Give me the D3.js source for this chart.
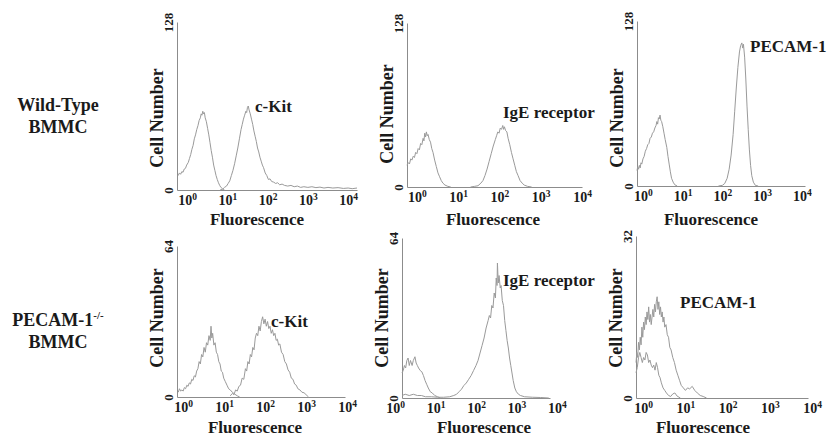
<!DOCTYPE html>
<html lang="en">
<head>
<meta charset="utf-8">
<script src="https://cdn.jsdelivr.net/npm/d3@7"></script>
<style type="text/css">
    body { margin: 0; background: #fff; }
    svg text {
        font-family: "Liberation Serif", "DejaVu Serif", serif;
        font-weight: bold;
        fill: #1a1a1a;
    }
    .axis path,
    .axis line {
        fill: none;
        stroke: #8c8c8c;
        stroke-width: 1;
    }
    .trace {
        fill: none;
        stroke: #9a9a9a;
        stroke-width: 1;
        stroke-linejoin: round;
    }
</style>
</head>
<body>
<script>
// labels
const rowNames = [["Wild-Type", "BMMC"], ["PECAM-1", "BMMC"]];
const rowSup = ["", "-/-"];
const markers = ["c-Kit", "IgE receptor", "PECAM-1", "c-Kit", "IgE receptor", "PECAM-1"];
const yMax = [128, 128, 128, 64, 64, 32];
const decades = [1, 10, 100, 1000, 10000];

// histograms: [log10 fluorescence, cell count]
const wtKitIso = [[-0.22,11],[-0.19,13],[-0.16,12],[-0.13,14],[-0.1,13.5],[-0.07,16],[-0.04,16.5],[-0.01,19],[0.03,21],[0.06,24],[0.09,27],[0.12,31],[0.15,34],[0.18,39],[0.21,42],[0.24,46],[0.27,49],[0.3,53],[0.33,55],[0.35,58],[0.37,57],[0.39,60],[0.41,58],[0.43,59],[0.45,55],[0.48,52],[0.51,47],[0.54,42],[0.57,36],[0.6,30],[0.63,25],[0.66,19],[0.69,15],[0.72,11],[0.75,8],[0.78,5.5],[0.81,3.5],[0.84,2],[0.88,1],[0.93,0]];
const wtKit = [[0.82,0],[0.88,0.5],[0.93,2],[0.98,3],[1.02,5],[1.06,7],[1.1,11],[1.14,15],[1.18,20],[1.22,26],[1.26,32],[1.3,39],[1.34,46],[1.37,50],[1.4,54],[1.43,57],[1.46,60],[1.48,59],[1.5,63],[1.52,64],[1.54,61],[1.57,58],[1.6,54],[1.63,50],[1.66,45],[1.69,41],[1.72,37],[1.75,32],[1.78,29],[1.81,25],[1.84,22],[1.87,19],[1.9,17],[1.94,13],[1.98,11],[2.02,8],[2.06,8.5],[2.1,6.5],[2.15,6],[2.2,5],[2.25,5.5],[2.3,4],[2.36,4.5],[2.42,3.5],[2.5,3],[2.58,3.5],[2.66,2.5],[2.74,3],[2.82,2],[2.9,2.5],[3.0,2],[3.1,2.5],[3.2,1.8],[3.3,2.2],[3.4,1.5],[3.5,2],[3.62,1.5],[3.75,1.8],[3.88,1.2],[4.0,1.5],[4.1,1],[4.22,1.5]];
const wtIgeIso = [[-0.24,17],[-0.21,19],[-0.18,18],[-0.15,22],[-0.12,21],[-0.09,24],[-0.06,23],[-0.03,27],[0,26],[0.03,30],[0.06,29],[0.09,34],[0.12,33],[0.15,38],[0.17,36],[0.19,42],[0.21,39],[0.23,43],[0.25,40],[0.27,41],[0.3,37],[0.33,35],[0.36,30],[0.39,27],[0.43,21],[0.47,16],[0.51,11],[0.55,8],[0.59,5],[0.63,3],[0.68,1.5],[0.75,0.5],[0.82,0]];
const wtIge = [[1.3,0],[1.4,0.5],[1.48,1],[1.55,3],[1.6,5],[1.65,9],[1.7,14],[1.75,20],[1.8,26],[1.85,32],[1.9,37],[1.93,40],[1.96,43],[1.99,42],[2.02,46],[2.05,45],[2.08,48],[2.1,45],[2.12,47],[2.15,44],[2.18,43],[2.21,38],[2.25,33],[2.29,27],[2.33,22],[2.37,17],[2.41,12],[2.45,9],[2.5,5],[2.55,3],[2.6,1.5],[2.68,0.5],[2.78,0]];
const wtPecIso = [[-0.15,12],[-0.13,15],[-0.11,13],[-0.09,16],[-0.07,14],[-0.05,18],[-0.03,17],[0,21],[0.03,23],[0.06,27],[0.09,29],[0.12,32],[0.15,33],[0.18,37],[0.21,38],[0.24,41],[0.27,42],[0.3,45],[0.33,47],[0.35,50],[0.37,48],[0.39,53],[0.41,52],[0.43,55],[0.45,51],[0.47,50],[0.5,46],[0.53,41],[0.56,36],[0.6,30],[0.63,23],[0.66,17],[0.69,11],[0.72,6],[0.76,3],[0.8,1],[0.86,0]];
const wtPec = [[1.9,0],[2.0,0.5],[2.06,2],[2.12,6],[2.17,13],[2.22,24],[2.27,40],[2.31,58],[2.35,76],[2.39,92],[2.43,104],[2.46,109],[2.49,111],[2.51,107],[2.53,110],[2.56,100],[2.59,83],[2.62,62],[2.65,44],[2.68,28],[2.71,16],[2.74,8],[2.78,3],[2.83,0.5],[2.9,0]];
const koKitIso = [[-0.12,2],[-0.09,3.5],[-0.06,2.5],[-0.03,3],[0,2.5],[0.03,4],[0.06,3.5],[0.09,5],[0.12,4.5],[0.15,6],[0.18,5.5],[0.21,7.5],[0.24,7],[0.27,9],[0.3,8.5],[0.33,11],[0.36,12],[0.39,15],[0.42,14],[0.45,18],[0.48,17],[0.51,21],[0.54,19],[0.57,23],[0.6,22],[0.63,26],[0.66,24],[0.68,30],[0.7,25],[0.72,27],[0.75,22],[0.78,23],[0.81,19],[0.84,18],[0.87,15],[0.9,14],[0.93,11],[0.96,10.5],[0.99,8],[1.03,6.5],[1.07,5],[1.11,3.5],[1.15,3],[1.2,2],[1.26,1.2],[1.32,0.5],[1.38,0]];
const koKit = [[1.15,0.5],[1.2,1.5],[1.24,1],[1.28,3],[1.32,2.5],[1.36,4.5],[1.4,5],[1.44,8],[1.48,7.5],[1.52,12],[1.55,11],[1.58,15],[1.61,14],[1.64,18],[1.67,17],[1.7,21],[1.73,20],[1.76,25],[1.79,27],[1.82,26],[1.85,30],[1.88,28],[1.91,32],[1.94,34],[1.97,31],[2.0,33],[2.03,30],[2.06,32],[2.09,29],[2.12,30],[2.15,27],[2.18,28.5],[2.21,26],[2.24,27],[2.27,24],[2.3,24.5],[2.33,22],[2.36,22.5],[2.4,19],[2.44,18],[2.48,15],[2.52,14],[2.56,11.5],[2.6,10.5],[2.64,8],[2.68,7.5],[2.72,5.5],[2.76,5],[2.8,3.5],[2.85,3],[2.9,2],[2.95,1.8],[3.0,1],[3.06,0]];
const koIgeIso = [[0.17,10],[0.2,11],[0.23,13],[0.26,12],[0.29,15],[0.32,16],[0.35,13],[0.38,15],[0.42,13],[0.45,15],[0.49,16.5],[0.52,14],[0.55,13],[0.58,12],[0.62,11],[0.66,10.5],[0.7,9],[0.74,7],[0.78,5.5],[0.82,4],[0.87,2.5],[0.92,2],[0.98,1],[1.05,0.5],[1.12,0]];
const koIge = [[0.17,1],[0.25,1.5],[0.35,1],[0.45,1.5],[0.55,1],[0.65,1],[0.75,0.5],[0.9,0.5],[1.05,0.3],[1.2,0.3],[1.35,0.5],[1.45,1],[1.52,1.5],[1.58,2.5],[1.64,3.5],[1.7,5],[1.76,6],[1.82,7.5],[1.88,9],[1.94,11],[2.0,13],[2.05,15],[2.1,18],[2.15,21],[2.2,24],[2.25,28],[2.3,31],[2.33,33],[2.36,32],[2.39,37],[2.42,36],[2.45,42],[2.48,40],[2.5,48],[2.52,45],[2.53,54],[2.55,46],[2.57,49],[2.6,44],[2.62,45],[2.65,39],[2.68,37],[2.71,31],[2.74,27],[2.77,23],[2.8,20],[2.83,16],[2.86,13],[2.89,10],[2.92,7],[2.96,4],[3.0,2.5],[3.05,1.5],[3.1,1],[3.2,0.5],[3.4,0.3],[3.6,0.2],[3.8,0]];
const koPecIso = [[-0.17,5],[-0.14,6],[-0.11,8],[-0.08,9],[-0.05,8],[-0.02,7],[0.01,8],[0.04,7.5],[0.07,9],[0.1,8.5],[0.13,7],[0.16,7.5],[0.19,6.5],[0.22,6],[0.25,6.5],[0.28,5.5],[0.31,7],[0.34,6],[0.37,4.5],[0.4,4],[0.43,3],[0.47,2],[0.51,1.5],[0.55,1],[0.6,0.5],[0.65,0.3],[0.7,0.8],[0.75,1],[0.8,0.4],[0.88,0]];
const koPec = [[-0.17,7],[-0.15,9],[-0.13,8],[-0.11,11],[-0.09,9.5],[-0.07,12],[-0.05,10.5],[-0.03,14],[-0.01,12],[0.01,15],[0.03,13.5],[0.05,16],[0.07,14.5],[0.09,17],[0.11,15.5],[0.13,18],[0.15,15],[0.17,16.5],[0.19,14.5],[0.21,16],[0.23,17.5],[0.25,16],[0.27,18.5],[0.29,17],[0.31,19],[0.33,20],[0.35,17.5],[0.37,19],[0.39,16.5],[0.41,18],[0.43,16],[0.45,17],[0.47,15],[0.49,16],[0.51,14],[0.54,14.5],[0.57,12.5],[0.6,12],[0.63,10],[0.66,9.5],[0.7,8],[0.74,7],[0.78,5.5],[0.82,4.5],[0.86,3.5],[0.9,2.5],[0.95,2],[1.0,1.5],[1.05,2],[1.1,1.8],[1.16,2.3],[1.22,1.5],[1.28,1],[1.35,0.5],[1.42,0.3],[1.5,0]];

const panelSeries = [
    [wtKitIso, wtKit], [wtIgeIso, wtIge], [wtPecIso, wtPec],
    [koKitIso, koKit], [koIgeIso, koIge], [koPecIso, koPec]
];

// where each panel sits on the page
const layout = [
    {lo: -0.25, hi: 4.22, axL: 177, axR: 357, y0: 190, yT: 22,  cy: 118, fx: 257, fy: 225, mx: 255, my: 112},
    {lo: -0.24, hi: 4.0,  axL: 407, axR: 582, y0: 187, yT: 23,  cy: 114, fx: 493, fy: 225, mx: 503, my: 118},
    {lo: -0.15, hi: 4.08, axL: 637, axR: 805, y0: 186, yT: 21,  cy: 118, fx: 711, fy: 225, mx: 750, my: 52},
    {lo: -0.15, hi: 3.95, axL: 177, axR: 345, y0: 397, yT: 246, cy: 318, fx: 255, fy: 433, mx: 271, my: 327},
    {lo: 0.17,  hi: 3.83, axL: 402, axR: 550, y0: 398, yT: 238, cy: 318, fx: 484, fy: 433, mx: 503, my: 286},
    {lo: -0.17, hi: 3.9,  axL: 636, axR: 808, y0: 398, yT: 236, cy: 318, fx: 703, fy: 433, mx: 680, my: 308}
];

let w = 839;
let h = 438;
let svg = d3.select("body")
            .append("svg")
            .attr("width", w)
            .attr("height", h);

// row titles
let rowY = [[111, 133], [326, 348]];
rowNames.forEach((names, r) => {
    names.forEach((name, k) => {
        let t = svg.append("text")
            .attr("x", 58)
            .attr("y", rowY[r][k])
            .attr("text-anchor", "middle")
            .attr("font-size", 18)
            .text(name);
        if (k === 0 && rowSup[r]) {
            t.append("tspan")
                .attr("dy", -7)
                .attr("font-size", 11)
                .text(rowSup[r]);
        }
    });
});

panelSeries.forEach((series, i) => {
    let L = layout[i];
    let x = d3.scaleLog()
              .domain([Math.pow(10, L.lo), Math.pow(10, L.hi)])
              .range([L.axL, L.axR]);
    let y = d3.scaleLinear()
              .domain([0, yMax[i]])
              .range([L.y0, L.yT]);

    let line = d3.line()
                 .x((d) => { return x(Math.pow(10, d[0])); })
                 .y((d) => { return y(d[1]); });

    // x axis with 10^n labels
    let gx = svg.append("g")
        .attr("class", "axis")
        .attr("transform", "translate(0," + L.y0 + ")")
        .call(d3.axisBottom(x).tickValues(decades).tickSize(0).tickSizeOuter(0).tickFormat(() => "10"));
    gx.selectAll(".tick text")
        .attr("y", 15)
        .attr("dy", null)
        .attr("font-size", 14)
        .each(function (d) {
            d3.select(this).append("tspan")
                .attr("dy", -5)
                .attr("font-size", 9.5)
                .text(Math.round(Math.log10(d)));
        });

    // y axis, only 0 and max, labels turned
    let gy = svg.append("g")
        .attr("class", "axis")
        .attr("transform", "translate(" + L.axL + ",0)")
        .call(d3.axisLeft(y).tickValues([0, yMax[i]]).tickSize(0).tickSizeOuter(0));
    gy.selectAll(".tick text")
        .attr("transform", "rotate(-90)")
        .attr("x", 0)
        .attr("y", -4)
        .attr("dy", null)
        .attr("text-anchor", "middle")
        .attr("font-size", 13);

    series.forEach((s) => {
        svg.append("path")
            .attr("class", "trace")
            .attr("d", line(s));
    });

    svg.append("text")
        .attr("transform", "translate(" + (L.axL - 14) + "," + L.cy + ") rotate(-90)")
        .attr("text-anchor", "middle")
        .attr("font-size", 18)
        .text("Cell Number");

    svg.append("text")
        .attr("x", L.fx)
        .attr("y", L.fy)
        .attr("text-anchor", "middle")
        .attr("font-size", 17)
        .text("Fluorescence");

    svg.append("text")
        .attr("x", L.mx)
        .attr("y", L.my)
        .attr("font-size", 17)
        .text(markers[i]);
});
</script>
</body>
</html>
